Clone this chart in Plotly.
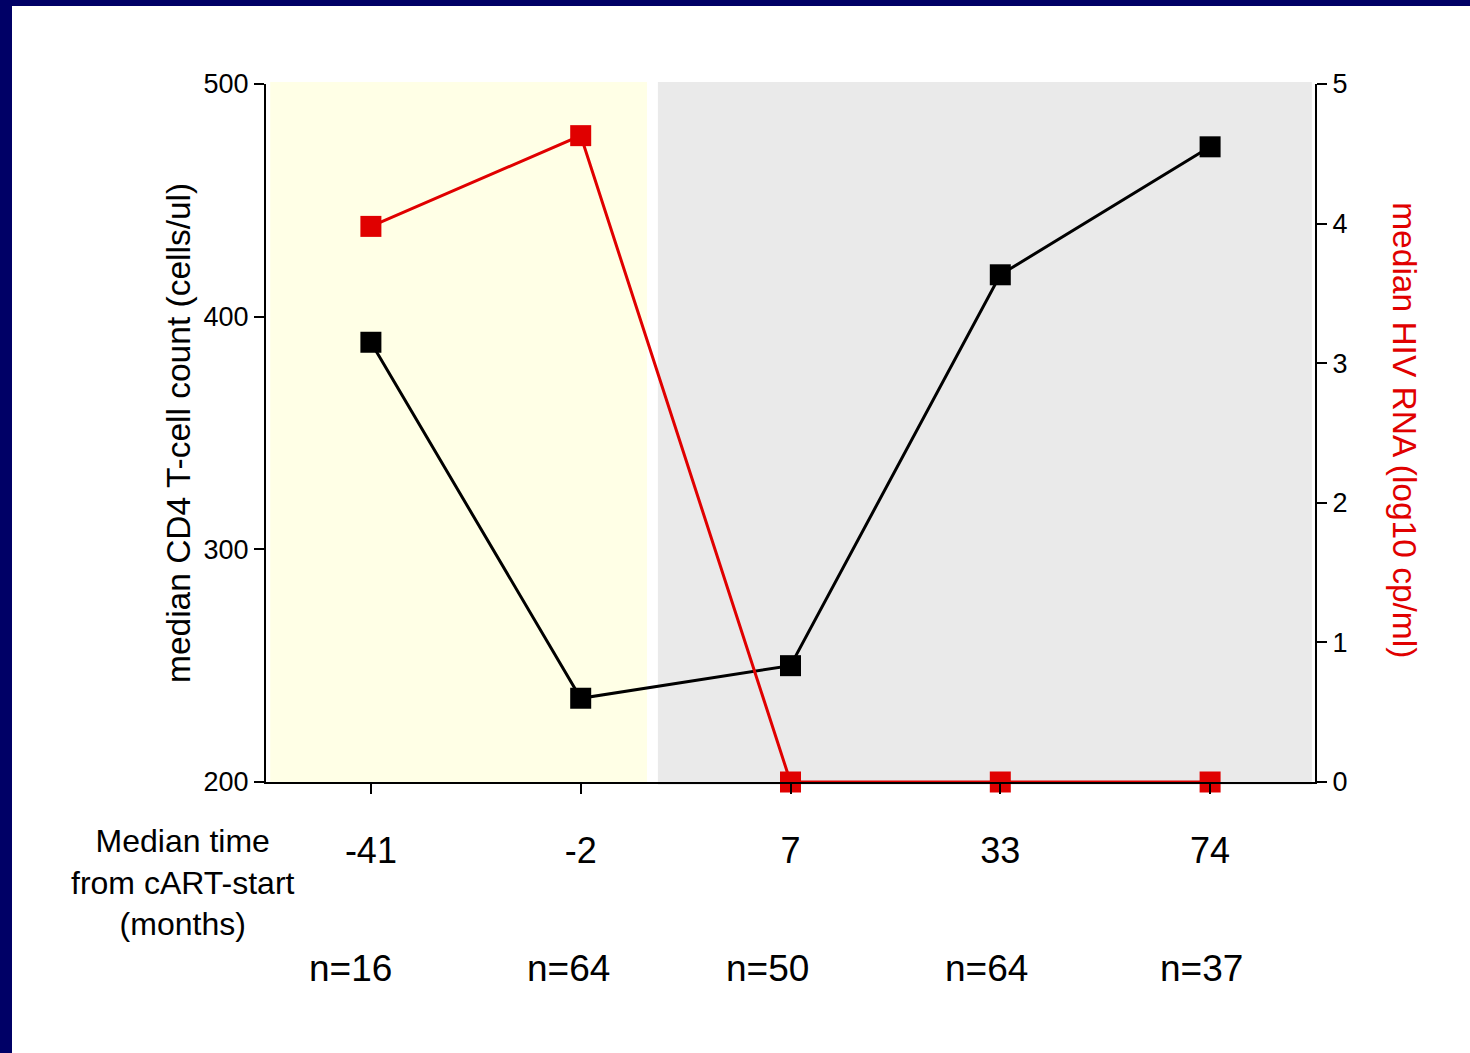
import plotly.graph_objects as go

# ---- data ----
time_labels = ["-41", "-2", "7", "33", "74"]
n_labels = ["n=16", "n=64", "n=50", "n=64", "n=37"]
cd4_median = [389, 236, 250, 418, 473]
hiv_rna_log10 = [3.98, 4.63, 0, 0, 0]

FONT = "Liberation Sans, Arial, sans-serif"
RED = "#E00000"
x_idx = list(range(len(time_labels)))
n_label_shift = [-20, -12, -23, -14, -9]  # pixel offsets of the n= labels

fig = go.Figure()

fig.add_trace(go.Scatter(
    x=x_idx, y=cd4_median, mode="lines+markers",
    line=dict(color="black", width=3),
    marker=dict(symbol="square", size=21, color="black"),
    cliponaxis=False, showlegend=False, yaxis="y"))

fig.add_trace(go.Scatter(
    x=x_idx, y=hiv_rna_log10, mode="lines+markers",
    line=dict(color=RED, width=3),
    marker=dict(symbol="square", size=21, color=RED),
    cliponaxis=False, showlegend=False, yaxis="y2"))

shapes = [
    dict(type="rect", xref="x", yref="paper", x0=-0.48, x1=1.316, y0=0, y1=1.003,
         fillcolor="#FFFFE6", line=dict(width=0), layer="below"),
    dict(type="rect", xref="x", yref="paper", x0=1.368, x1=4.485, y0=-0.004, y1=1.003,
         fillcolor="#EAEAEA", line=dict(width=0), layer="below"),
    dict(type="rect", xref="paper", yref="paper", x0=-266/1049, x1=-254/1049,
         y0=-271/698, y1=1 + 84/698, fillcolor="#000066", line=dict(width=0)),
    dict(type="rect", xref="paper", yref="paper", x0=-266/1049, x1=1 + 155/1049,
         y0=1 + 78/698, y1=1 + 84/698, fillcolor="#000066", line=dict(width=0)),
]

annotations = [
    dict(text="median CD4 T-cell count (cells/ul)", xref="paper", yref="paper",
         x=(178 - 266) / 1049, y=0.5, textangle=-90, showarrow=False,
         font=dict(family=FONT, size=33.5, color="black"), xanchor="center", yanchor="middle"),
    dict(text="median HIV RNA (log10 cp/ml)", xref="paper", yref="paper",
         x=(1405 - 266) / 1049, y=0.504, textangle=90, showarrow=False,
         font=dict(family=FONT, size=33.5, color=RED), xanchor="center", yanchor="middle"),
    dict(text="Median time<br>from cART-start<br>(months)", xref="paper", yref="paper",
         x=(183 - 266) / 1049, y=(782 - 882) / 698, showarrow=False, align="center",
         font=dict(family=FONT, size=32, color="black"), xanchor="center", yanchor="middle"),
]
for i, lab in enumerate(n_labels):
    annotations.append(dict(text=lab, xref="x", yref="paper", x=i, y=(782 - 968) / 698,
                            xshift=n_label_shift[i], showarrow=False,
                            font=dict(family=FONT, size=37, color="black"),
                            xanchor="center", yanchor="middle"))

fig.update_layout(
    width=1470, height=1053,
    margin=dict(l=266, r=155, t=84, b=271),
    paper_bgcolor="white", plot_bgcolor="white",
    font=dict(family=FONT, color="black"),
    xaxis=dict(range=[-0.5, 4.5], tickvals=x_idx, ticktext=time_labels,
               showline=True, linecolor="black", linewidth=2,
               ticks="outside", ticklen=10, tickwidth=2, tickcolor="black",
               tickfont=dict(family=FONT, size=36, color="black"),
               ticklabelstandoff=26, showgrid=False, zeroline=False),
    yaxis=dict(range=[200, 500], tickvals=[200, 300, 400, 500],
               showline=True, linecolor="black", linewidth=2,
               ticks="outside", ticklen=10, tickwidth=2, tickcolor="black",
               tickfont=dict(family=FONT, size=27, color="black"),
               showgrid=False, zeroline=False),
    yaxis2=dict(range=[0, 5], tickvals=[0, 1, 2, 3, 4, 5], overlaying="y", side="right",
                showline=True, linecolor="black", linewidth=2,
                ticks="outside", ticklen=10, tickwidth=2, tickcolor="black",
                tickfont=dict(family=FONT, size=27, color="black"),
                showgrid=False, zeroline=False),
    shapes=shapes, annotations=annotations,
)

fig.write_html("out.html", config={"displayModeBar": False},
               post_script="document.body.style.margin='0';document.body.style.overflow='hidden';")
